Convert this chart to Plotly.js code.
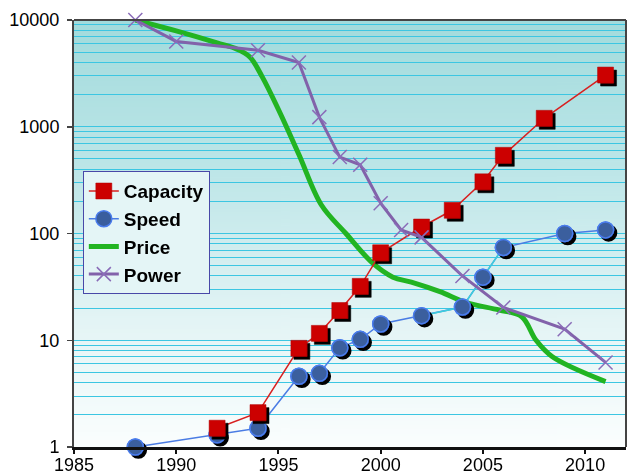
<!DOCTYPE html>
<html>
<head>
<meta charset="utf-8">
<script src="https://cdn.plot.ly/plotly-3.0.1.min.js"></script>
<style>
  html, body { margin: 0; padding: 0; background: #ffffff; }
  #chart { width: 629px; height: 475px; }
</style>
</head>
<body>
<svg width="0" height="0" style="position:absolute">
  <defs>
    <filter id="sh" x="-50%" y="-50%" width="200%" height="200%">
      <feDropShadow dx="3" dy="3" stdDeviation="0.4" flood-color="#000" flood-opacity="1"/>
    </filter>
  </defs>
</svg>
<div id="chart"></div>
<script>
// ---- data ----
const capacityYears = [1992, 1994, 1996, 1997, 1998, 1999, 2000, 2002, 2003.5, 2005, 2006, 2008, 2011];
const capacityValues = [1.5, 2.1, 8.4, 11.6, 19, 32, 66, 115, 165, 305, 540, 1200, 3050];

const speedYears = [1988, 1992, 1994, 1996, 1997, 1998, 1999, 2000, 2002, 2004, 2005, 2006, 2009, 2011];
const speedValues = [1, 1.3, 1.5, 4.6, 4.9, 8.5, 10.2, 14.2, 17, 20.5, 39, 74, 100, 108];

const priceYears = [1988, 1990, 1992, 1993, 1993.6, 1994.2, 1995, 1996, 1997.1, 1998.3, 1999.6, 2000.6, 2001.5, 2002.9, 2004.2, 2005.8, 2006.9, 2007.6, 2008.4, 2011];
const priceValues = [10000, 7900, 6100, 5300, 4500, 2950, 1450, 550, 185, 100, 53, 39, 35, 28.5, 22.5, 19.2, 16.6, 10, 7, 4.1];

const powerYears = [1988, 1990, 1994, 1996, 1997, 1998, 1999, 2000, 2001, 2002, 2004, 2006, 2009, 2011];
const powerValues = [10000, 6300, 5200, 4000, 1230, 520, 440, 192, 108, 92, 40, 20.3, 12.7, 6.2];

const yTickValues = [1, 10, 100, 1000, 10000];
const yTickLabels = ['1', '10', '100', '1000', '10000'];
const xTickValues = [1985, 1990, 1995, 2000, 2005, 2010];

// index range of the light (cyan) speed segment
const speedCyanFrom = 8, speedCyanTo = 12;

// ---- background gradient image ----
function gradientURL() {
  const c = document.createElement('canvas');
  c.width = 4; c.height = 400;
  const g = c.getContext('2d');
  const grd = g.createLinearGradient(0, 0, 0, 400);
  grd.addColorStop(0, '#a2dbdc');
  grd.addColorStop(0.35, '#bde6e8');
  grd.addColorStop(0.7, '#e3f4f5');
  grd.addColorStop(1, '#fbfefe');
  g.fillStyle = grd;
  g.fillRect(0, 0, 4, 400);
  return c.toDataURL('image/png');
}

const speedMarker = {symbol: 'circle', size: 16, color: '#3a5e9e', line: {color: '#4a7cec', width: 1.5}};

const traces = [
  {
    name: 'Price', x: priceYears, y: priceValues, type: 'scatter', mode: 'lines',
    line: {color: '#22b422', width: 5, shape: 'spline', smoothing: 1},
    legendrank: 3
  },
  {
    name: 'Speed', x: speedYears, y: speedValues, type: 'scatter', mode: 'lines+markers',
    line: {color: '#4a7ce4', width: 1.5}, marker: speedMarker, legendrank: 2
  },
  {
    name: 'Speed', x: speedYears.slice(speedCyanFrom, speedCyanTo), y: speedValues.slice(speedCyanFrom, speedCyanTo),
    type: 'scatter', mode: 'lines', line: {color: '#3ccfdc', width: 1.5}, showlegend: false, hoverinfo: 'skip'
  },
  {
    name: 'Speed', x: speedYears, y: speedValues, type: 'scatter', mode: 'markers',
    marker: speedMarker, showlegend: false, cliponaxis: false
  },
  {
    name: 'Capacity', x: capacityYears, y: capacityValues, type: 'scatter', mode: 'lines+markers',
    line: {color: '#d82020', width: 1.5},
    marker: {symbol: 'square', size: 16, color: '#cc0000', line: {color: '#b00000', width: 0.5}},
    legendrank: 1
  },
  {
    name: 'Power', x: powerYears, y: powerValues, type: 'scatter', mode: 'lines+markers',
    line: {color: '#8262aa', width: 3}, cliponaxis: false,
    marker: {symbol: 'x-thin', size: 14, color: '#8a6cb8', line: {color: '#8a6cb8', width: 1.5}},
    legendrank: 4
  }
];

const gridCol = '#3cc6e2';

const layout = {
  width: 629, height: 475,
  margin: {l: 74, r: 3, t: 20, b: 28, pad: 0},
  paper_bgcolor: '#ffffff',
  plot_bgcolor: 'rgba(0,0,0,0)',
  font: {family: 'Liberation Sans, Arial, sans-serif', color: '#000', size: 18},
  showlegend: true,
  legend: {
    x: 0.016, y: 0.646, xanchor: 'left', yanchor: 'top',
    bgcolor: '#e4f5f6', bordercolor: '#4848a8', borderwidth: 1,
    font: {family: 'Liberation Sans, Arial, sans-serif', size: 19, color: '#000', weight: 'bold'},
    traceorder: 'normal', itemwidth: 30
  },
  xaxis: {
    range: [1985, 2012], tickvals: xTickValues, ticktext: xTickValues.map(String),
    showgrid: false, zeroline: false,
    showline: true, linecolor: '#111', linewidth: 3,
    ticks: 'outside', ticklen: 4, tickwidth: 2, tickcolor: '#111',
    tickfont: {size: 18}, ticklabelstandoff: -5
  },
  yaxis: {
    type: 'log', range: [0, 4], tickvals: yTickValues, ticktext: yTickLabels,
    showgrid: true, gridcolor: gridCol, gridwidth: 1.3,
    zeroline: false,
    showline: true, linecolor: '#444', linewidth: 2,
    ticks: 'outside', ticklen: 5, tickwidth: 1.5, tickcolor: '#444',
    tickfont: {size: 18}, ticklabelstandoff: 4,
    minor: {dtick: 'D1', showgrid: true, gridcolor: gridCol, gridwidth: 1, ticks: ''}
  },
  images: [{
    source: gradientURL(), xref: 'paper', yref: 'paper', x: 0, y: 1, sizex: 1, sizey: 1,
    xanchor: 'left', yanchor: 'top', sizing: 'stretch', layer: 'below'
  }],
  shapes: [
    {type: 'line', xref: 'paper', yref: 'paper', x0: 0, x1: 1, y0: 1, y1: 1, line: {color: '#444', width: 2}},
    {type: 'line', xref: 'paper', yref: 'paper', x0: 1, x1: 1, y0: 0, y1: 1, line: {color: '#444', width: 2}}
  ]
};

const gd = document.getElementById('chart');
function addShadows() {
  const tr = gd.querySelectorAll('.scatterlayer .trace');
  [3, 4].forEach(i => {
    if (tr[i]) {
      const p = tr[i].querySelector('g.points');
      if (p) p.setAttribute('filter', 'url(#sh)');
    }
  });
}
Plotly.newPlot(gd, traces, layout, {displayModeBar: false, staticPlot: true}).then(() => {
  addShadows();
  gd.on('plotly_afterplot', addShadows);
});
</script>
</body>
</html>
